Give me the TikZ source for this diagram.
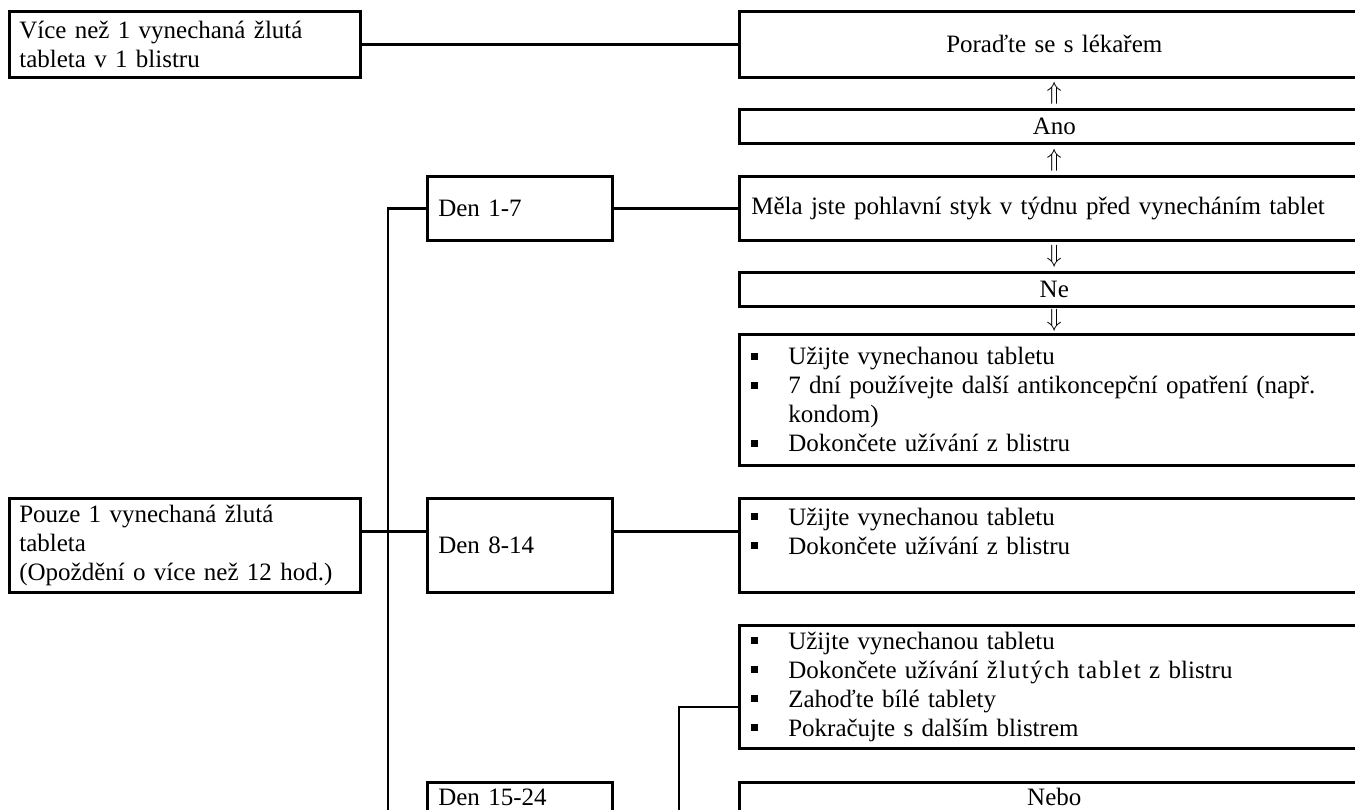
\documentclass[tikz,border=0pt]{standalone}
\usepackage{fontspec}
\setmainfont{Liberation Serif}
\usetikzlibrary{positioning, calc}

\newcommand{\sqitem}{\makebox[37pt][l]{\raisebox{5pt}{\rule{7pt}{7pt}}}}
\newcommand{\noitem}{\hspace*{37pt}}

\begin{document}
\begin{tikzpicture}[
    x=1pt, y=-1pt,
    font=\fontsize{25}{29}\selectfont, line width=2.6pt,
    base_box/.style ={draw, rectangle, inner ysep=0pt, anchor=north west},
    side_box/.style ={base_box, inner xsep=10pt, text width=331pt, align=left},
    day_box/.style  ={base_box, inner xsep=11pt, text width=163pt, align=left},
    rule_box/.style ={base_box, inner xsep=12pt, text width=606pt},
    step_mark/.style={inner sep=0pt, font=\fontsize{28}{29}\selectfont}
]

\useasboundingbox (0,0) rectangle (1355,809);
\clip (0,0) rectangle (1355,809);

% Left column
\node[side_box, minimum height=66pt] (more) at (8,10)
    {Více než 1 vynechaná žlutá\\tableta v 1 blistru};
\node[side_box, minimum height=94pt] (only) at (8,497)
    {Pouze 1 vynechaná žlutá\\tableta\\(Opoždění o více než 12 hod.)};

% Days
\node[day_box, minimum height=64pt] (day_a) at (426,175) {Den 1-7};
\node[day_box, minimum height=94pt] (day_b) at (426,497) {Den 8-14};
\node[day_box, text height=23pt, text depth=90pt] (day_c) at (426,781) {Den 15-24};

% Right column
\node[rule_box, align=center, minimum height=66pt] (doctor) at (738,10) {Poraďte se s lékařem};
\node[rule_box, align=center, minimum height=34pt] (yes) at (738,108) {Ano};
\node[rule_box, align=left, minimum height=64pt] (sex) at (738,175)
    {Měla jste pohlavní styk v týdnu před vynecháním tablet};
\node[rule_box, align=center, minimum height=34pt] (no) at (738,271) {Ne};
\node[rule_box, align=left, minimum height=131pt] (steps_a) at (738,333) {%
    \sqitem Užijte vynechanou tabletu\\
    \sqitem 7 dní používejte další antikoncepční opatření (např.\\
    \noitem kondom)\\
    \sqitem Dokončete užívání z blistru};
\node[rule_box, align=left, minimum height=94pt] (steps_b) at (738,497) {%
    \sqitem Užijte vynechanou tabletu\\
    \sqitem Dokončete užívání z blistru\\
    \mbox{}};
\node[rule_box, align=left, minimum height=123pt] (steps_c) at (738,624) {%
    \sqitem Užijte vynechanou tabletu\\
    \sqitem Dokončete užívání {\addfontfeature{LetterSpace=6}žlutých tablet} z blistru\\
    \sqitem Zahoďte bílé tablety\\
    \sqitem Pokračujte s dalším blistrem};
\node[rule_box, align=center, text height=23pt, text depth=90pt] (or) at (738,781) {Nebo};

% Arrows between answers
\node[step_mark] (up_a) at ($(doctor.south)!0.5!(yes.north)$) {$\Uparrow$};
\node[step_mark] (up_b) at ($(yes.south)!0.5!(sex.north)$) {$\Uparrow$};
\node[step_mark] (down_a) at ($(sex.south)!0.5!(no.north)$) {$\Downarrow$};
\node[step_mark] (down_b) at ($(no.south)!0.5!(steps_a.north)$) {$\Downarrow$};

% Connectors
\coordinate (spine_end) at (388,870);
\coordinate (mid_row) at ($(day_b.west)+(0,-14)$);
\coordinate (late_end) at (679,870);
\coordinate (late_row) at ($(steps_c.west)+(0,20)$);

\draw (more.east) -- (doctor.west);
\draw (day_a.east) -- (sex.west);
\draw (spine_end) |- (day_a.west);
\draw (only.east |- mid_row) -- (mid_row);
\draw (day_b.east |- mid_row) -- (steps_b.west |- mid_row);
\draw (late_end) |- (late_row);

\end{tikzpicture}
\end{document}
